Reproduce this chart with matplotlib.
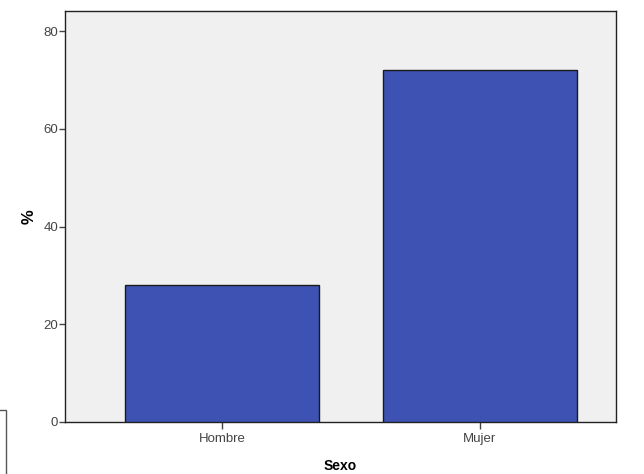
import matplotlib
matplotlib.use("agg")
import matplotlib.pyplot as plt
from matplotlib.patches import Rectangle

categories = ['Hombre', 'Mujer']
percent = [28.0, 72.0]
yticks = [0, 20, 40, 60, 80]

plt.rcParams['font.family'] = ['Liberation Sans', 'DejaVu Sans']

fig = plt.figure(figsize=(6.44, 4.74), dpi=100)
ax = fig.add_axes([65 / 644, 1 - 422 / 474, 551 / 644, 411 / 474])
ax.set_facecolor('#f0f0f0')

x = list(range(len(categories)))
ax.bar(x, percent, width=0.75, color='#3d52b3', edgecolor='#1a1a1a', linewidth=1.0, zorder=3)

ax.set_xlim(-0.608, 1.527)
ax.set_ylim(0, 84.1)
ax.set_yticks(yticks)
ax.set_xticks(x)
ax.set_xticklabels(categories)
ax.tick_params(axis='both', labelsize=9.5, colors='#444444', length=5, width=1)
ax.tick_params(axis='y', length=4, pad=1)
ax.tick_params(axis='x', pad=3)

for s in ax.spines.values():
    s.set_color('#222222')
    s.set_linewidth(1.0)

ax.set_xlabel('Sexo', fontsize=10, fontweight='bold', labelpad=10)
ax.set_ylabel('%', fontsize=12, fontweight='bold', labelpad=5)

# stray frame at lower left of the source image
fig.patches.append(Rectangle((-0.01, -0.01), 12 / 644, 69 / 474, transform=fig.transFigure,
                             fill=False, edgecolor='#555555', linewidth=1.0))

fig.savefig('out.png', dpi=100)
